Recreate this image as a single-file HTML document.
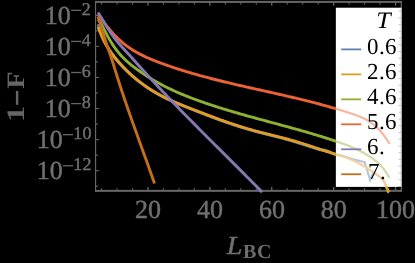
<!DOCTYPE html>
<html><head><meta charset="utf-8"><title>plot</title>
<style>
html,body{margin:0;padding:0;background:#000;}
body{width:415px;height:263px;overflow:hidden;}
svg{display:block;}
text{font-family:"Liberation Serif",serif;text-rendering:geometricPrecision;}
.t{fill:#707070;stroke:#707070;stroke-width:0.45px;font-size:26px;}
.s{fill:#707070;stroke:#707070;stroke-width:0.4px;font-size:18px;}
.l{fill:#000;font-size:23px;}
</style></head><body>
<svg width="415" height="263" viewBox="0 0 415 263">
<defs><filter id="gs" x="0" y="0" width="415" height="263" filterUnits="userSpaceOnUse"><feOffset dx="0" dy="0"/></filter></defs>
<rect x="0" y="0" width="415" height="263" fill="#000"/>
<rect x="335.9" y="7.8" width="65.95000000000005" height="179.0" fill="#fff"/>
<g fill="#666666" stroke="none">
<rect x="94.95" y="0.9" width="306.95" height="2.0"/>
<rect x="94.95" y="189.85" width="306.95" height="2.0"/>
<rect x="94.95" y="0.9" width="1.2" height="190.95"/>
<rect x="400.7" y="0.9" width="1.2" height="190.95"/>
</g>
<g stroke="#666666" stroke-width="1.1" fill="none">
<path stroke-width="1.1" d="M101.60,190.8 v-2.6 M101.60,1.9 v2.6"/>
<path stroke-width="1.1" d="M117.07,190.8 v-2.6 M117.07,1.9 v2.6"/>
<path stroke-width="1.1" d="M132.54,190.8 v-2.6 M132.54,1.9 v2.6"/>
<path stroke-width="1.3" d="M148.00,190.8 v-3.9 M148.00,1.9 v3.9"/>
<path stroke-width="1.1" d="M163.47,190.8 v-2.6 M163.47,1.9 v2.6"/>
<path stroke-width="1.1" d="M178.94,190.8 v-2.6 M178.94,1.9 v2.6"/>
<path stroke-width="1.1" d="M194.41,190.8 v-2.6 M194.41,1.9 v2.6"/>
<path stroke-width="1.3" d="M209.88,190.8 v-3.9 M209.88,1.9 v3.9"/>
<path stroke-width="1.1" d="M225.35,190.8 v-2.6 M225.35,1.9 v2.6"/>
<path stroke-width="1.1" d="M240.81,190.8 v-2.6 M240.81,1.9 v2.6"/>
<path stroke-width="1.1" d="M256.28,190.8 v-2.6 M256.28,1.9 v2.6"/>
<path stroke-width="1.3" d="M271.75,190.8 v-3.9 M271.75,1.9 v3.9"/>
<path stroke-width="1.1" d="M287.22,190.8 v-2.6 M287.22,1.9 v2.6"/>
<path stroke-width="1.1" d="M302.69,190.8 v-2.6 M302.69,1.9 v2.6"/>
<path stroke-width="1.1" d="M318.16,190.8 v-2.6 M318.16,1.9 v2.6"/>
<path stroke-width="1.3" d="M333.63,190.8 v-3.9 M333.63,1.9 v3.9"/>
<path stroke-width="1.1" d="M349.09,190.8 v-2.6 M349.09,1.9 v2.6"/>
<path stroke-width="1.1" d="M364.56,190.8 v-2.6 M364.56,1.9 v2.6"/>
<path stroke-width="1.1" d="M380.03,190.8 v-2.6 M380.03,1.9 v2.6"/>
<path stroke-width="1.3" d="M395.50,190.8 v-3.9 M395.50,1.9 v3.9"/>
<path stroke-width="1.1" d="M95.5,15.30 h3.6"/>
<path stroke-width="1.1" d="M95.5,30.84 h2.5"/>
<path stroke-width="1.1" d="M95.5,46.38 h3.6"/>
<path stroke-width="1.1" d="M95.5,61.92 h2.5"/>
<path stroke-width="1.1" d="M95.5,77.46 h3.6"/>
<path stroke-width="1.1" d="M95.5,93.00 h2.5"/>
<path stroke-width="1.1" d="M95.5,108.54 h3.6"/>
<path stroke-width="1.1" d="M95.5,124.08 h2.5"/>
<path stroke-width="1.1" d="M95.5,139.62 h3.6"/>
<path stroke-width="1.1" d="M95.5,155.16 h2.5"/>
<path stroke-width="1.1" d="M95.5,170.70 h3.6"/>
<path stroke-width="1.1" d="M95.5,186.24 h2.5"/>
<path stroke-width="0.8" d="M401.3,11.00 h-2.8"/>
<path stroke-width="0.8" d="M401.3,17.75 h-2.8"/>
<path stroke-width="0.8" d="M401.3,24.50 h-2.8"/>
<path stroke-width="0.8" d="M401.3,31.25 h-2.8"/>
<path stroke-width="0.8" d="M401.3,38.00 h-2.8"/>
<path stroke-width="0.8" d="M401.3,44.75 h-2.8"/>
<path stroke-width="0.8" d="M401.3,51.50 h-2.8"/>
<path stroke-width="0.8" d="M401.3,58.25 h-2.8"/>
<path stroke-width="0.8" d="M401.3,65.00 h-2.8"/>
<path stroke-width="0.8" d="M401.3,71.75 h-2.8"/>
<path stroke-width="0.8" d="M401.3,78.50 h-2.8"/>
<path stroke-width="0.8" d="M401.3,85.25 h-2.8"/>
<path stroke-width="0.8" d="M401.3,92.00 h-2.8"/>
<path stroke-width="0.8" d="M401.3,98.75 h-2.8"/>
<path stroke-width="0.8" d="M401.3,105.50 h-2.8"/>
<path stroke-width="0.8" d="M401.3,112.25 h-2.8"/>
<path stroke-width="0.8" d="M401.3,119.00 h-2.8"/>
<path stroke-width="0.8" d="M401.3,125.75 h-2.8"/>
<path stroke-width="0.8" d="M401.3,132.50 h-2.8"/>
<path stroke-width="0.8" d="M401.3,139.25 h-2.8"/>
<path stroke-width="0.8" d="M401.3,146.00 h-2.8"/>
<path stroke-width="0.8" d="M401.3,152.75 h-2.8"/>
<path stroke-width="0.8" d="M401.3,159.50 h-2.8"/>
<path stroke-width="0.8" d="M401.3,166.25 h-2.8"/>
<path stroke-width="0.8" d="M401.3,173.00 h-2.8"/>
<path stroke-width="0.8" d="M401.3,179.75 h-2.8"/>
<path stroke-width="0.8" d="M401.3,186.50 h-2.8"/>
</g>
<defs><clipPath id="cin"><rect x="335.9" y="7.8" width="65.95000000000005" height="179.0"/></clipPath><clipPath id="cout"><path clip-rule="evenodd" d="M0,0H415V263H0Z M335.9,7.8H401.85V186.8H335.9Z"/></clipPath></defs>
<g clip-path="url(#cout)"><g fill="none" stroke-width="2.9" stroke-linejoin="miter" stroke-miterlimit="8" stroke-linecap="butt">
<path d="M98.0,24.33 L99.0,27.35 L100.0,30.31 L101.0,33.24 L102.0,35.77 L103.0,38.08 L104.0,40.20 L105.0,42.16 L106.0,44.01 L107.0,45.77 L108.0,47.44 L109.0,49.03 L110.0,50.54 L111.0,51.99 L112.0,53.42 L113.0,54.78 L114.0,56.11 L115.0,57.39 L116.0,58.63 L117.0,59.84 L118.0,61.02 L119.0,62.17 L120.0,63.31 L121.0,64.41 L122.0,65.51 L123.0,66.58 L124.0,67.64 L125.0,68.68 L126.0,69.70 L127.0,70.70 L128.0,71.68 L129.0,72.65 L130.0,73.60 L131.0,74.54 L132.0,75.44 L133.0,76.32 L134.0,77.19 L135.0,78.05 L136.0,78.89 L137.0,79.72 L138.0,80.53 L139.0,81.32 L140.0,82.10 L141.0,82.88 L142.0,83.65 L143.0,84.40 L144.0,85.13 L145.0,85.86 L146.0,86.57 L147.0,87.27 L148.0,87.95 L149.0,88.63 L150.0,89.29 L151.0,89.92 L152.0,90.55 L153.0,91.16 L154.0,91.76 L155.0,92.34 L156.0,92.92 L157.0,93.49 L158.0,94.05 L159.0,94.60 L160.0,95.14 L161.0,95.68 L162.0,96.20 L163.0,96.72 L164.0,97.22 L165.0,97.72 L166.0,98.22 L167.0,98.70 L168.0,99.18 L169.0,99.65 L170.0,100.12 L171.0,100.58 L172.0,101.03 L173.0,101.47 L174.0,101.92 L175.0,102.35 L176.0,102.78 L177.0,103.21 L178.0,103.63 L179.0,104.05 L180.0,104.46 L181.0,104.87 L182.0,105.28 L183.0,105.68 L184.0,106.09 L185.0,106.48 L186.0,106.88 L187.0,107.27 L188.0,107.66 L189.0,108.05 L190.0,108.44 L191.0,108.83 L192.0,109.22 L193.0,109.60 L194.0,110.01 L195.0,110.41 L196.0,110.81 L197.0,111.21 L198.0,111.61 L199.0,112.02 L200.0,112.42 L201.0,112.82 L202.0,113.22 L203.0,113.61 L204.0,114.01 L205.0,114.41 L206.0,114.81 L207.0,115.20 L208.0,115.60 L209.0,115.99 L210.0,116.38 L211.0,116.75 L212.0,117.13 L213.0,117.50 L214.0,117.87 L215.0,118.23 L216.0,118.60 L217.0,118.97 L218.0,119.33 L219.0,119.69 L220.0,120.05 L221.0,120.41 L222.0,120.77 L223.0,121.12 L224.0,121.48 L225.0,121.83 L226.0,122.18 L227.0,122.53 L228.0,122.87 L229.0,123.21 L230.0,123.56 L231.0,123.90 L232.0,124.23 L233.0,124.57 L234.0,124.90 L235.0,125.23 L236.0,125.55 L237.0,125.88 L238.0,126.20 L239.0,126.52 L240.0,126.84 L241.0,127.15 L242.0,127.46 L243.0,127.77 L244.0,128.08 L245.0,128.38 L246.0,128.68 L247.0,128.97 L248.0,129.27 L249.0,129.56 L250.0,129.84 L251.0,130.13 L252.0,130.41 L253.0,130.68 L254.0,130.96 L255.0,131.23 L256.0,131.49 L257.0,131.76 L258.0,132.02 L259.0,132.29 L260.0,132.55 L261.0,132.81 L262.0,133.07 L263.0,133.33 L264.0,133.59 L265.0,133.84 L266.0,134.10 L267.0,134.35 L268.0,134.61 L269.0,134.86 L270.0,135.11 L271.0,135.36 L272.0,135.62 L273.0,135.87 L274.0,136.12 L275.0,136.38 L276.0,136.63 L277.0,136.89 L278.0,137.14 L279.0,137.40 L280.0,137.66 L281.0,137.92 L282.0,138.18 L283.0,138.45 L284.0,138.72 L285.0,138.99 L286.0,139.26 L287.0,139.54 L288.0,139.81 L289.0,140.10 L290.0,140.38 L291.0,140.67 L292.0,140.96 L293.0,141.25 L294.0,141.54 L295.0,141.84 L296.0,142.14 L297.0,142.44 L298.0,142.74 L299.0,143.05 L300.0,143.36 L301.0,143.68 L302.0,143.99 L303.0,144.31 L304.0,144.63 L305.0,144.95 L306.0,145.28 L307.0,145.60 L308.0,145.93 L309.0,146.25 L310.0,146.58 L311.0,146.91 L312.0,147.24 L313.0,147.57 L314.0,147.90 L315.0,148.23 L316.0,148.57 L317.0,148.90 L318.0,149.23 L319.0,149.56 L320.0,149.69 L321.0,149.82 L322.0,149.95 L323.0,150.04 L324.0,150.13 L325.0,150.22 L326.0,150.55 L327.0,150.87 L328.0,151.19 L329.0,151.51 L330.0,152.02 L331.0,152.54 L332.0,153.05 L333.0,153.56 L334.0,153.89 L335.0,154.23 L336.0,154.56 L337.0,154.73 L338.0,154.89 L339.0,155.05 L340.0,155.32 L341.0,155.58 L342.0,155.86 L343.0,156.14 L344.0,156.43 L345.0,156.73 L346.0,157.04 L347.0,157.34 L348.0,157.66 L349.0,157.98 L350.0,158.32 L351.0,158.68 L352.0,158.96 L353.0,159.23 L354.0,159.52 L355.0,159.82 L356.0,160.13 L357.0,160.35 L358.0,160.56 L359.0,160.78 L360.0,161.01 L361.0,161.25 L362.0,161.51 L363.0,161.79 L364.0,162.08 L364.6,162.26 L370.2,180.00 L373.4,172.29 L374.4,172.99 L375.4,173.70 L376.4,174.42 L377.4,175.15 L378.4,175.88 L379.4,176.63 L380.4,177.40 L381.4,178.25 L382.4,179.28 L383.4,180.54 L384.4,182.12 L385.4,184.09 L386.4,186.52 L387.4,189.31 L388.4,191.59 L389.1,192.32" stroke="#5E81B5"/>
<path d="M98.0,26.93 L99.0,29.58 L100.0,32.10 L101.0,34.50 L102.0,36.78 L103.0,38.94 L104.0,41.00 L105.0,42.96 L106.0,44.81 L107.0,46.57 L108.0,48.24 L109.0,49.83 L110.0,51.34 L111.0,52.78 L112.0,54.16 L113.0,55.49 L114.0,56.77 L115.0,58.01 L116.0,59.22 L117.0,60.41 L118.0,61.56 L119.0,62.69 L120.0,63.80 L121.0,64.88 L122.0,65.95 L123.0,66.99 L124.0,68.02 L125.0,69.03 L126.0,70.02 L127.0,71.00 L128.0,71.96 L129.0,72.90 L130.0,73.82 L131.0,74.73 L132.0,75.62 L133.0,76.50 L134.0,77.36 L135.0,78.20 L136.0,79.03 L137.0,79.85 L138.0,80.65 L139.0,81.43 L140.0,82.20 L141.0,82.96 L142.0,83.71 L143.0,84.44 L144.0,85.15 L145.0,85.86 L146.0,86.55 L147.0,87.23 L148.0,87.89 L149.0,88.55 L150.0,89.19 L151.0,89.82 L152.0,90.45 L153.0,91.06 L154.0,91.66 L155.0,92.24 L156.0,92.82 L157.0,93.39 L158.0,93.95 L159.0,94.50 L160.0,95.04 L161.0,95.58 L162.0,96.10 L163.0,96.62 L164.0,97.12 L165.0,97.62 L166.0,98.12 L167.0,98.60 L168.0,99.08 L169.0,99.55 L170.0,100.02 L171.0,100.48 L172.0,100.93 L173.0,101.37 L174.0,101.82 L175.0,102.25 L176.0,102.68 L177.0,103.11 L178.0,103.53 L179.0,103.95 L180.0,104.36 L181.0,104.77 L182.0,105.18 L183.0,105.58 L184.0,105.99 L185.0,106.38 L186.0,106.78 L187.0,107.17 L188.0,107.56 L189.0,107.95 L190.0,108.34 L191.0,108.73 L192.0,109.12 L193.0,109.50 L194.0,109.89 L195.0,110.27 L196.0,110.66 L197.0,111.04 L198.0,111.43 L199.0,111.81 L200.0,112.19 L201.0,112.58 L202.0,112.96 L203.0,113.34 L204.0,113.72 L205.0,114.10 L206.0,114.48 L207.0,114.85 L208.0,115.23 L209.0,115.61 L210.0,115.98 L211.0,116.35 L212.0,116.73 L213.0,117.10 L214.0,117.47 L215.0,117.83 L216.0,118.20 L217.0,118.57 L218.0,118.93 L219.0,119.29 L220.0,119.65 L221.0,120.01 L222.0,120.37 L223.0,120.72 L224.0,121.08 L225.0,121.43 L226.0,121.78 L227.0,122.13 L228.0,122.47 L229.0,122.81 L230.0,123.16 L231.0,123.50 L232.0,123.83 L233.0,124.17 L234.0,124.50 L235.0,124.83 L236.0,125.15 L237.0,125.48 L238.0,125.80 L239.0,126.12 L240.0,126.44 L241.0,126.75 L242.0,127.06 L243.0,127.37 L244.0,127.68 L245.0,127.98 L246.0,128.28 L247.0,128.57 L248.0,128.87 L249.0,129.16 L250.0,129.44 L251.0,129.73 L252.0,130.01 L253.0,130.28 L254.0,130.56 L255.0,130.83 L256.0,131.09 L257.0,131.36 L258.0,131.62 L259.0,131.88 L260.0,132.14 L261.0,132.39 L262.0,132.65 L263.0,132.90 L264.0,133.15 L265.0,133.40 L266.0,133.65 L267.0,133.90 L268.0,134.15 L269.0,134.39 L270.0,134.64 L271.0,134.89 L272.0,135.13 L273.0,135.38 L274.0,135.63 L275.0,135.87 L276.0,136.12 L277.0,136.37 L278.0,136.62 L279.0,136.88 L280.0,137.13 L281.0,137.38 L282.0,137.64 L283.0,137.90 L284.0,138.16 L285.0,138.43 L286.0,138.69 L287.0,138.96 L288.0,139.23 L289.0,139.51 L290.0,139.79 L291.0,140.07 L292.0,140.36 L293.0,140.65 L294.0,140.94 L295.0,141.24 L296.0,141.54 L297.0,141.84 L298.0,142.14 L299.0,142.45 L300.0,142.76 L301.0,143.08 L302.0,143.39 L303.0,143.71 L304.0,144.03 L305.0,144.35 L306.0,144.68 L307.0,145.00 L308.0,145.33 L309.0,145.65 L310.0,145.98 L311.0,146.31 L312.0,146.64 L313.0,146.97 L314.0,147.30 L315.0,147.63 L316.0,147.97 L317.0,148.30 L318.0,148.63 L319.0,148.96 L320.0,149.29 L321.0,149.62 L322.0,149.95 L323.0,150.27 L324.0,150.60 L325.0,150.92 L326.0,151.25 L327.0,151.57 L328.0,151.89 L329.0,152.21 L330.0,152.52 L331.0,152.84 L332.0,153.15 L333.0,153.46 L334.0,153.76 L335.0,154.06 L336.0,154.36 L337.0,154.66 L338.0,154.96 L339.0,155.25 L340.0,155.55 L341.0,155.85 L342.0,156.16 L343.0,156.48 L344.0,156.80 L345.0,157.14 L346.0,157.49 L347.0,157.86 L348.0,158.24 L349.0,158.63 L350.0,159.04 L351.0,159.47 L352.0,159.90 L353.0,160.36 L354.0,160.82 L355.0,161.30 L356.0,161.80 L357.0,162.30 L358.0,162.82 L359.0,163.35 L360.0,163.90 L361.0,164.46 L362.0,165.03 L363.0,165.61 L364.0,166.20 L365.0,166.80 L366.0,167.42 L367.0,168.04 L368.0,168.68 L369.0,169.33 L370.0,169.98 L371.0,170.65 L372.0,171.33 L373.0,172.02 L374.0,172.71 L375.0,173.42 L376.0,174.13 L377.0,174.86 L378.0,175.59 L379.0,176.33 L380.0,177.08 L381.0,177.90 L382.0,178.84 L383.0,180.00 L384.0,181.45 L385.0,183.25 L386.0,185.49 L387.0,188.20 L388.0,190.81 L389.0,192.27 L389.1,192.32" stroke="#E19C24"/>
<path d="M98.0,19.33 L99.0,20.49 L100.0,21.89 L101.0,23.50 L102.0,25.27 L103.0,27.15 L104.0,29.10 L105.0,31.09 L106.0,33.07 L107.0,35.00 L108.0,36.85 L109.0,38.64 L110.0,40.36 L111.0,42.01 L112.0,43.60 L113.0,45.13 L114.0,46.60 L115.0,48.01 L116.0,49.37 L117.0,50.68 L118.0,51.93 L119.0,53.15 L120.0,54.31 L121.0,55.44 L122.0,56.52 L123.0,57.56 L124.0,58.57 L125.0,59.55 L126.0,60.49 L127.0,61.40 L128.0,62.29 L129.0,63.15 L130.0,63.98 L131.0,64.80 L132.0,65.59 L133.0,66.37 L134.0,67.14 L135.0,67.89 L136.0,68.63 L137.0,69.36 L138.0,70.08 L139.0,70.80 L140.0,71.50 L141.0,72.20 L142.0,72.88 L143.0,73.56 L144.0,74.23 L145.0,74.89 L146.0,75.54 L147.0,76.18 L148.0,76.82 L149.0,77.45 L150.0,78.07 L151.0,78.68 L152.0,79.28 L153.0,79.88 L154.0,80.47 L155.0,81.05 L156.0,81.62 L157.0,82.19 L158.0,82.74 L159.0,83.30 L160.0,83.84 L161.0,84.38 L162.0,84.91 L163.0,85.43 L164.0,85.95 L165.0,86.46 L166.0,86.97 L167.0,87.47 L168.0,87.96 L169.0,88.45 L170.0,88.93 L171.0,89.41 L172.0,89.88 L173.0,90.34 L174.0,90.80 L175.0,91.25 L176.0,91.70 L177.0,92.15 L178.0,92.58 L179.0,93.02 L180.0,93.45 L181.0,93.87 L182.0,94.29 L183.0,94.71 L184.0,95.12 L185.0,95.52 L186.0,95.92 L187.0,96.32 L188.0,96.72 L189.0,97.11 L190.0,97.49 L191.0,97.88 L192.0,98.26 L193.0,98.63 L194.0,99.01 L195.0,99.38 L196.0,99.74 L197.0,100.11 L198.0,100.47 L199.0,100.83 L200.0,101.18 L201.0,101.54 L202.0,101.89 L203.0,102.23 L204.0,102.58 L205.0,102.92 L206.0,103.27 L207.0,103.61 L208.0,103.94 L209.0,104.28 L210.0,104.61 L211.0,104.94 L212.0,105.27 L213.0,105.60 L214.0,105.92 L215.0,106.25 L216.0,106.57 L217.0,106.89 L218.0,107.21 L219.0,107.52 L220.0,107.84 L221.0,108.15 L222.0,108.46 L223.0,108.77 L224.0,109.08 L225.0,109.38 L226.0,109.69 L227.0,109.99 L228.0,110.29 L229.0,110.59 L230.0,110.89 L231.0,111.19 L232.0,111.49 L233.0,111.78 L234.0,112.07 L235.0,112.37 L236.0,112.66 L237.0,112.95 L238.0,113.24 L239.0,113.52 L240.0,113.81 L241.0,114.10 L242.0,114.38 L243.0,114.66 L244.0,114.95 L245.0,115.23 L246.0,115.51 L247.0,115.79 L248.0,116.07 L249.0,116.34 L250.0,116.62 L251.0,116.90 L252.0,117.17 L253.0,117.45 L254.0,117.72 L255.0,118.00 L256.0,118.27 L257.0,118.55 L258.0,118.82 L259.0,119.09 L260.0,119.36 L261.0,119.63 L262.0,119.90 L263.0,120.17 L264.0,120.44 L265.0,120.71 L266.0,120.98 L267.0,121.25 L268.0,121.52 L269.0,121.79 L270.0,122.06 L271.0,122.33 L272.0,122.60 L273.0,122.87 L274.0,123.14 L275.0,123.41 L276.0,123.68 L277.0,123.95 L278.0,124.22 L279.0,124.49 L280.0,124.76 L281.0,125.03 L282.0,125.30 L283.0,125.57 L284.0,125.84 L285.0,126.11 L286.0,126.38 L287.0,126.66 L288.0,126.93 L289.0,127.20 L290.0,127.48 L291.0,127.75 L292.0,128.03 L293.0,128.30 L294.0,128.58 L295.0,128.86 L296.0,129.14 L297.0,129.42 L298.0,129.70 L299.0,129.98 L300.0,130.26 L301.0,130.54 L302.0,130.82 L303.0,131.11 L304.0,131.39 L305.0,131.68 L306.0,131.97 L307.0,132.26 L308.0,132.55 L309.0,132.84 L310.0,133.13 L311.0,133.42 L312.0,133.72 L313.0,134.02 L314.0,134.31 L315.0,134.61 L316.0,134.91 L317.0,135.21 L318.0,135.52 L319.0,135.82 L320.0,136.13 L321.0,136.44 L322.0,136.75 L323.0,137.06 L324.0,137.37 L325.0,137.69 L326.0,138.00 L327.0,138.32 L328.0,138.64 L329.0,138.96 L330.0,139.29 L331.0,139.61 L332.0,139.94 L333.0,140.27 L334.0,140.60 L335.0,140.93 L336.0,141.27 L337.0,141.61 L338.0,141.95 L339.0,142.29 L340.0,142.64 L341.0,142.99 L342.0,143.34 L343.0,143.70 L344.0,144.07 L345.0,144.44 L346.0,144.81 L347.0,145.20 L348.0,145.59 L349.0,145.98 L350.0,146.39 L351.0,146.80 L352.0,147.22 L353.0,147.65 L354.0,148.09 L355.0,148.54 L356.0,149.00 L357.0,149.47 L358.0,149.95 L359.0,150.44 L360.0,150.95 L361.0,151.46 L362.0,151.99 L363.0,152.54 L364.0,153.09 L365.0,153.66 L366.0,154.25 L367.0,154.85 L368.0,155.47 L369.0,156.10 L370.0,156.75 L371.0,157.41 L372.0,158.10 L373.0,158.80 L374.0,159.54 L375.0,160.31 L376.0,161.11 L377.0,161.96 L378.0,162.86 L379.0,163.80 L380.0,164.80 L381.0,165.86 L382.0,166.98 L383.0,168.18 L384.0,169.44 L385.0,170.79 L386.0,172.21 L387.0,173.72 L388.0,175.33 L389.0,177.03 L389.4,177.74" stroke="#8FB032"/>
<path d="M98.0,14.39 L99.0,15.78 L100.0,17.15 L101.0,18.51 L102.0,19.86 L103.0,21.19 L104.0,22.51 L105.0,23.80 L106.0,25.08 L107.0,26.34 L108.0,27.58 L109.0,28.79 L110.0,29.98 L111.0,31.14 L112.0,32.28 L113.0,33.39 L114.0,34.48 L115.0,35.54 L116.0,36.57 L117.0,37.57 L118.0,38.55 L119.0,39.50 L120.0,40.42 L121.0,41.32 L122.0,42.19 L123.0,43.03 L124.0,43.84 L125.0,44.63 L126.0,45.40 L127.0,46.14 L128.0,46.86 L129.0,47.56 L130.0,48.24 L131.0,48.91 L132.0,49.55 L133.0,50.17 L134.0,50.78 L135.0,51.38 L136.0,51.95 L137.0,52.52 L138.0,53.07 L139.0,53.61 L140.0,54.13 L141.0,54.65 L142.0,55.15 L143.0,55.64 L144.0,56.13 L145.0,56.60 L146.0,57.06 L147.0,57.51 L148.0,57.96 L149.0,58.39 L150.0,58.82 L151.0,59.24 L152.0,59.66 L153.0,60.06 L154.0,60.47 L155.0,60.86 L156.0,61.25 L157.0,61.64 L158.0,62.02 L159.0,62.39 L160.0,62.77 L161.0,63.14 L162.0,63.51 L163.0,63.87 L164.0,64.23 L165.0,64.59 L166.0,64.95 L167.0,65.30 L168.0,65.65 L169.0,66.00 L170.0,66.34 L171.0,66.68 L172.0,67.02 L173.0,67.36 L174.0,67.69 L175.0,68.02 L176.0,68.35 L177.0,68.68 L178.0,69.00 L179.0,69.32 L180.0,69.64 L181.0,69.96 L182.0,70.27 L183.0,70.59 L184.0,70.89 L185.0,71.20 L186.0,71.51 L187.0,71.81 L188.0,72.11 L189.0,72.41 L190.0,72.71 L191.0,73.00 L192.0,73.29 L193.0,73.58 L194.0,73.87 L195.0,74.16 L196.0,74.44 L197.0,74.72 L198.0,75.00 L199.0,75.28 L200.0,75.56 L201.0,75.83 L202.0,76.11 L203.0,76.38 L204.0,76.65 L205.0,76.92 L206.0,77.18 L207.0,77.45 L208.0,77.71 L209.0,77.97 L210.0,78.23 L211.0,78.49 L212.0,78.75 L213.0,79.01 L214.0,79.26 L215.0,79.51 L216.0,79.77 L217.0,80.02 L218.0,80.27 L219.0,80.52 L220.0,80.76 L221.0,81.01 L222.0,81.25 L223.0,81.50 L224.0,81.74 L225.0,81.98 L226.0,82.22 L227.0,82.46 L228.0,82.70 L229.0,82.94 L230.0,83.17 L231.0,83.41 L232.0,83.64 L233.0,83.88 L234.0,84.11 L235.0,84.34 L236.0,84.58 L237.0,84.81 L238.0,85.04 L239.0,85.27 L240.0,85.50 L241.0,85.73 L242.0,85.96 L243.0,86.18 L244.0,86.41 L245.0,86.64 L246.0,86.86 L247.0,87.09 L248.0,87.32 L249.0,87.54 L250.0,87.77 L251.0,87.99 L252.0,88.21 L253.0,88.44 L254.0,88.66 L255.0,88.89 L256.0,89.11 L257.0,89.33 L258.0,89.55 L259.0,89.78 L260.0,90.00 L261.0,90.22 L262.0,90.45 L263.0,90.67 L264.0,90.89 L265.0,91.11 L266.0,91.34 L267.0,91.56 L268.0,91.78 L269.0,92.01 L270.0,92.23 L271.0,92.46 L272.0,92.68 L273.0,92.90 L274.0,93.13 L275.0,93.35 L276.0,93.58 L277.0,93.80 L278.0,94.03 L279.0,94.26 L280.0,94.48 L281.0,94.71 L282.0,94.94 L283.0,95.17 L284.0,95.40 L285.0,95.63 L286.0,95.86 L287.0,96.09 L288.0,96.32 L289.0,96.55 L290.0,96.79 L291.0,97.02 L292.0,97.26 L293.0,97.49 L294.0,97.73 L295.0,97.96 L296.0,98.20 L297.0,98.44 L298.0,98.68 L299.0,98.92 L300.0,99.16 L301.0,99.41 L302.0,99.65 L303.0,99.90 L304.0,100.14 L305.0,100.39 L306.0,100.64 L307.0,100.89 L308.0,101.14 L309.0,101.39 L310.0,101.64 L311.0,101.90 L312.0,102.16 L313.0,102.41 L314.0,102.67 L315.0,102.93 L316.0,103.19 L317.0,103.46 L318.0,103.72 L319.0,103.99 L320.0,104.25 L321.0,104.52 L322.0,104.79 L323.0,105.07 L324.0,105.34 L325.0,105.62 L326.0,105.89 L327.0,106.17 L328.0,106.45 L329.0,106.74 L330.0,107.02 L331.0,107.31 L332.0,107.60 L333.0,107.89 L334.0,108.18 L335.0,108.47 L336.0,108.77 L337.0,109.06 L338.0,109.36 L339.0,109.67 L340.0,109.97 L341.0,110.28 L342.0,110.58 L343.0,110.90 L344.0,111.21 L345.0,111.52 L346.0,111.84 L347.0,112.16 L348.0,112.48 L349.0,112.80 L350.0,113.13 L351.0,113.46 L352.0,113.79 L353.0,114.12 L354.0,114.46 L355.0,114.81 L356.0,115.17 L357.0,115.53 L358.0,115.91 L359.0,116.30 L360.0,116.71 L361.0,117.13 L362.0,117.58 L363.0,118.04 L364.0,118.52 L365.0,119.03 L366.0,119.57 L367.0,120.13 L368.0,120.72 L369.0,121.35 L370.0,122.00 L371.0,122.69 L372.0,123.41 L373.0,124.17 L374.0,124.97 L375.0,125.82 L376.0,126.70 L377.0,127.63 L378.0,128.60 L379.0,129.62 L380.0,130.69 L381.0,131.81 L382.0,132.99 L383.0,134.22 L384.0,135.50 L385.0,136.84 L386.0,138.25 L387.0,139.71 L388.0,141.23 L389.0,142.82 L389.6,143.81" stroke="#EB6235"/>
<path d="M98.1,12.46 L99.1,14.06 L100.1,15.68 L101.1,17.32 L102.1,18.98 L103.1,20.63 L104.1,22.29 L105.1,23.94 L106.1,25.57 L107.1,27.18 L108.1,28.77 L109.1,30.32 L110.1,31.84 L111.1,33.32 L112.1,34.76 L113.1,36.16 L114.1,37.52 L115.1,38.84 L116.1,40.12 L117.1,41.36 L118.1,42.57 L119.1,43.75 L120.1,44.91 L121.1,46.04 L122.1,47.15 L123.1,48.25 L124.1,49.34 L125.1,50.41 L126.1,51.49 L127.1,52.56 L128.1,53.64 L129.1,54.72 L130.1,55.81 L131.1,56.92 L132.1,58.04 L133.1,59.17 L134.1,60.30 L135.1,61.43 L136.1,62.56 L137.1,63.68 L138.1,64.81 L139.1,65.92 L140.1,67.04 L141.1,68.15 L142.1,69.26 L143.1,70.37 L144.1,71.47 L145.1,72.57 L146.1,73.67 L147.1,74.77 L148.1,75.86 L149.1,76.95 L150.1,78.04 L151.1,79.12 L152.1,80.21 L153.1,81.29 L154.1,82.36 L155.1,83.44 L156.1,84.51 L157.1,85.58 L158.1,86.65 L159.1,87.72 L160.1,88.78 L161.1,89.84 L162.1,90.90 L163.1,91.96 L164.1,93.01 L165.1,94.06 L166.1,95.12 L167.1,96.16 L168.1,97.21 L169.1,98.26 L170.1,99.30 L171.1,100.34 L172.1,101.38 L173.1,102.42 L174.1,103.46 L175.1,104.49 L176.1,105.52 L177.1,106.55 L178.1,107.58 L179.1,108.61 L180.1,109.64 L181.1,110.66 L182.1,111.69 L183.1,112.71 L184.1,113.73 L185.1,114.75 L186.1,115.77 L187.1,116.79 L188.1,117.80 L189.1,118.82 L190.1,119.83 L191.1,120.84 L192.1,121.85 L193.1,122.86 L194.1,123.87 L195.1,124.88 L196.1,125.89 L197.1,126.90 L198.1,127.90 L199.1,128.91 L200.1,129.91 L201.1,130.91 L202.1,131.92 L203.1,132.92 L204.1,133.92 L205.1,134.92 L206.1,135.92 L207.1,136.92 L208.1,137.92 L209.1,138.92 L210.1,139.92 L211.1,140.92 L212.1,141.92 L213.1,142.91 L214.1,143.91 L215.1,144.91 L216.1,145.90 L217.1,146.90 L218.1,147.90 L219.1,148.89 L220.1,149.89 L221.1,150.89 L222.1,151.88 L223.1,152.88 L224.1,153.88 L225.1,154.87 L226.1,155.87 L227.1,156.87 L228.1,157.87 L229.1,158.86 L230.1,159.86 L231.1,160.86 L232.1,161.86 L233.1,162.86 L234.1,163.86 L235.1,164.86 L236.1,165.86 L237.1,166.86 L238.1,167.86 L239.1,168.87 L240.1,169.87 L241.1,170.87 L242.1,171.88 L243.1,172.88 L244.1,173.89 L245.1,174.90 L246.1,175.91 L247.1,176.92 L248.1,177.93 L249.1,178.94 L250.1,179.95 L251.1,180.96 L252.1,181.98 L253.1,183.00 L254.1,184.01 L255.1,185.03 L256.1,186.05 L257.1,187.07 L258.1,188.09 L259.1,189.12 L260.1,190.14 L261.1,191.17 L262.1,192.20 L262.1,192.20" stroke="#8778B3"/>
<path d="M98.0,16.54 L99.0,19.78 L100.0,23.07 L101.0,26.38 L102.0,29.68 L103.0,32.95 L104.0,36.15 L105.0,39.27 L106.0,42.30 L107.0,45.26 L108.0,48.17 L109.0,51.06 L110.0,53.99 L111.0,56.98 L112.0,60.05 L113.0,63.18 L114.0,66.36 L115.0,69.57 L116.0,72.78 L117.0,75.98 L118.0,79.15 L119.0,82.28 L120.0,85.38 L121.0,88.45 L122.0,91.50 L123.0,94.51 L124.0,97.50 L125.0,100.46 L126.0,103.40 L127.0,106.32 L128.0,109.22 L129.0,112.10 L130.0,114.96 L131.0,117.80 L132.0,120.63 L133.0,123.45 L134.0,126.25 L135.0,129.04 L136.0,131.83 L137.0,134.61 L138.0,137.38 L139.0,140.14 L140.0,142.91 L141.0,145.67 L142.0,148.43 L143.0,151.19 L144.0,153.95 L145.0,156.72 L146.0,159.49 L147.0,162.27 L148.0,165.06 L149.0,167.86 L150.0,170.67 L151.0,173.49 L152.0,176.32 L153.0,179.17 L154.0,182.04 L154.5,183.48" stroke="#C56E1A"/>
</g></g>
<g clip-path="url(#cin)"><g fill="none" stroke-width="2.2" stroke-linejoin="miter" stroke-miterlimit="8" stroke-linecap="butt">
<path d="M98.0,24.33 L99.0,27.35 L100.0,30.31 L101.0,33.24 L102.0,35.77 L103.0,38.08 L104.0,40.20 L105.0,42.16 L106.0,44.01 L107.0,45.77 L108.0,47.44 L109.0,49.03 L110.0,50.54 L111.0,51.99 L112.0,53.42 L113.0,54.78 L114.0,56.11 L115.0,57.39 L116.0,58.63 L117.0,59.84 L118.0,61.02 L119.0,62.17 L120.0,63.31 L121.0,64.41 L122.0,65.51 L123.0,66.58 L124.0,67.64 L125.0,68.68 L126.0,69.70 L127.0,70.70 L128.0,71.68 L129.0,72.65 L130.0,73.60 L131.0,74.54 L132.0,75.44 L133.0,76.32 L134.0,77.19 L135.0,78.05 L136.0,78.89 L137.0,79.72 L138.0,80.53 L139.0,81.32 L140.0,82.10 L141.0,82.88 L142.0,83.65 L143.0,84.40 L144.0,85.13 L145.0,85.86 L146.0,86.57 L147.0,87.27 L148.0,87.95 L149.0,88.63 L150.0,89.29 L151.0,89.92 L152.0,90.55 L153.0,91.16 L154.0,91.76 L155.0,92.34 L156.0,92.92 L157.0,93.49 L158.0,94.05 L159.0,94.60 L160.0,95.14 L161.0,95.68 L162.0,96.20 L163.0,96.72 L164.0,97.22 L165.0,97.72 L166.0,98.22 L167.0,98.70 L168.0,99.18 L169.0,99.65 L170.0,100.12 L171.0,100.58 L172.0,101.03 L173.0,101.47 L174.0,101.92 L175.0,102.35 L176.0,102.78 L177.0,103.21 L178.0,103.63 L179.0,104.05 L180.0,104.46 L181.0,104.87 L182.0,105.28 L183.0,105.68 L184.0,106.09 L185.0,106.48 L186.0,106.88 L187.0,107.27 L188.0,107.66 L189.0,108.05 L190.0,108.44 L191.0,108.83 L192.0,109.22 L193.0,109.60 L194.0,110.01 L195.0,110.41 L196.0,110.81 L197.0,111.21 L198.0,111.61 L199.0,112.02 L200.0,112.42 L201.0,112.82 L202.0,113.22 L203.0,113.61 L204.0,114.01 L205.0,114.41 L206.0,114.81 L207.0,115.20 L208.0,115.60 L209.0,115.99 L210.0,116.38 L211.0,116.75 L212.0,117.13 L213.0,117.50 L214.0,117.87 L215.0,118.23 L216.0,118.60 L217.0,118.97 L218.0,119.33 L219.0,119.69 L220.0,120.05 L221.0,120.41 L222.0,120.77 L223.0,121.12 L224.0,121.48 L225.0,121.83 L226.0,122.18 L227.0,122.53 L228.0,122.87 L229.0,123.21 L230.0,123.56 L231.0,123.90 L232.0,124.23 L233.0,124.57 L234.0,124.90 L235.0,125.23 L236.0,125.55 L237.0,125.88 L238.0,126.20 L239.0,126.52 L240.0,126.84 L241.0,127.15 L242.0,127.46 L243.0,127.77 L244.0,128.08 L245.0,128.38 L246.0,128.68 L247.0,128.97 L248.0,129.27 L249.0,129.56 L250.0,129.84 L251.0,130.13 L252.0,130.41 L253.0,130.68 L254.0,130.96 L255.0,131.23 L256.0,131.49 L257.0,131.76 L258.0,132.02 L259.0,132.29 L260.0,132.55 L261.0,132.81 L262.0,133.07 L263.0,133.33 L264.0,133.59 L265.0,133.84 L266.0,134.10 L267.0,134.35 L268.0,134.61 L269.0,134.86 L270.0,135.11 L271.0,135.36 L272.0,135.62 L273.0,135.87 L274.0,136.12 L275.0,136.38 L276.0,136.63 L277.0,136.89 L278.0,137.14 L279.0,137.40 L280.0,137.66 L281.0,137.92 L282.0,138.18 L283.0,138.45 L284.0,138.72 L285.0,138.99 L286.0,139.26 L287.0,139.54 L288.0,139.81 L289.0,140.10 L290.0,140.38 L291.0,140.67 L292.0,140.96 L293.0,141.25 L294.0,141.54 L295.0,141.84 L296.0,142.14 L297.0,142.44 L298.0,142.74 L299.0,143.05 L300.0,143.36 L301.0,143.68 L302.0,143.99 L303.0,144.31 L304.0,144.63 L305.0,144.95 L306.0,145.28 L307.0,145.60 L308.0,145.93 L309.0,146.25 L310.0,146.58 L311.0,146.91 L312.0,147.24 L313.0,147.57 L314.0,147.90 L315.0,148.23 L316.0,148.57 L317.0,148.90 L318.0,149.23 L319.0,149.56 L320.0,149.69 L321.0,149.82 L322.0,149.95 L323.0,150.04 L324.0,150.13 L325.0,150.22 L326.0,150.55 L327.0,150.87 L328.0,151.19 L329.0,151.51 L330.0,152.02 L331.0,152.54 L332.0,153.05 L333.0,153.56 L334.0,153.89 L335.0,154.23 L336.0,154.56 L337.0,154.73 L338.0,154.89 L339.0,155.05 L340.0,155.32 L341.0,155.58 L342.0,155.86 L343.0,156.14 L344.0,156.43 L345.0,156.73 L346.0,157.04 L347.0,157.34 L348.0,157.66 L349.0,157.98 L350.0,158.32 L351.0,158.68 L352.0,158.96 L353.0,159.23 L354.0,159.52 L355.0,159.82 L356.0,160.13 L357.0,160.35 L358.0,160.56 L359.0,160.78 L360.0,161.01 L361.0,161.25 L362.0,161.51 L363.0,161.79 L364.0,162.08 L364.6,162.26 L370.2,180.00 L373.4,172.29 L374.4,172.99 L375.4,173.70 L376.4,174.42 L377.4,175.15 L378.4,175.88 L379.4,176.63 L380.4,177.40 L381.4,178.25 L382.4,179.28 L383.4,180.54 L384.4,182.12 L385.4,184.09 L386.4,186.52 L387.4,189.31 L388.4,191.59 L389.1,192.32" stroke="#5E81B5"/>
<path d="M98.0,26.93 L99.0,29.58 L100.0,32.10 L101.0,34.50 L102.0,36.78 L103.0,38.94 L104.0,41.00 L105.0,42.96 L106.0,44.81 L107.0,46.57 L108.0,48.24 L109.0,49.83 L110.0,51.34 L111.0,52.78 L112.0,54.16 L113.0,55.49 L114.0,56.77 L115.0,58.01 L116.0,59.22 L117.0,60.41 L118.0,61.56 L119.0,62.69 L120.0,63.80 L121.0,64.88 L122.0,65.95 L123.0,66.99 L124.0,68.02 L125.0,69.03 L126.0,70.02 L127.0,71.00 L128.0,71.96 L129.0,72.90 L130.0,73.82 L131.0,74.73 L132.0,75.62 L133.0,76.50 L134.0,77.36 L135.0,78.20 L136.0,79.03 L137.0,79.85 L138.0,80.65 L139.0,81.43 L140.0,82.20 L141.0,82.96 L142.0,83.71 L143.0,84.44 L144.0,85.15 L145.0,85.86 L146.0,86.55 L147.0,87.23 L148.0,87.89 L149.0,88.55 L150.0,89.19 L151.0,89.82 L152.0,90.45 L153.0,91.06 L154.0,91.66 L155.0,92.24 L156.0,92.82 L157.0,93.39 L158.0,93.95 L159.0,94.50 L160.0,95.04 L161.0,95.58 L162.0,96.10 L163.0,96.62 L164.0,97.12 L165.0,97.62 L166.0,98.12 L167.0,98.60 L168.0,99.08 L169.0,99.55 L170.0,100.02 L171.0,100.48 L172.0,100.93 L173.0,101.37 L174.0,101.82 L175.0,102.25 L176.0,102.68 L177.0,103.11 L178.0,103.53 L179.0,103.95 L180.0,104.36 L181.0,104.77 L182.0,105.18 L183.0,105.58 L184.0,105.99 L185.0,106.38 L186.0,106.78 L187.0,107.17 L188.0,107.56 L189.0,107.95 L190.0,108.34 L191.0,108.73 L192.0,109.12 L193.0,109.50 L194.0,109.89 L195.0,110.27 L196.0,110.66 L197.0,111.04 L198.0,111.43 L199.0,111.81 L200.0,112.19 L201.0,112.58 L202.0,112.96 L203.0,113.34 L204.0,113.72 L205.0,114.10 L206.0,114.48 L207.0,114.85 L208.0,115.23 L209.0,115.61 L210.0,115.98 L211.0,116.35 L212.0,116.73 L213.0,117.10 L214.0,117.47 L215.0,117.83 L216.0,118.20 L217.0,118.57 L218.0,118.93 L219.0,119.29 L220.0,119.65 L221.0,120.01 L222.0,120.37 L223.0,120.72 L224.0,121.08 L225.0,121.43 L226.0,121.78 L227.0,122.13 L228.0,122.47 L229.0,122.81 L230.0,123.16 L231.0,123.50 L232.0,123.83 L233.0,124.17 L234.0,124.50 L235.0,124.83 L236.0,125.15 L237.0,125.48 L238.0,125.80 L239.0,126.12 L240.0,126.44 L241.0,126.75 L242.0,127.06 L243.0,127.37 L244.0,127.68 L245.0,127.98 L246.0,128.28 L247.0,128.57 L248.0,128.87 L249.0,129.16 L250.0,129.44 L251.0,129.73 L252.0,130.01 L253.0,130.28 L254.0,130.56 L255.0,130.83 L256.0,131.09 L257.0,131.36 L258.0,131.62 L259.0,131.88 L260.0,132.14 L261.0,132.39 L262.0,132.65 L263.0,132.90 L264.0,133.15 L265.0,133.40 L266.0,133.65 L267.0,133.90 L268.0,134.15 L269.0,134.39 L270.0,134.64 L271.0,134.89 L272.0,135.13 L273.0,135.38 L274.0,135.63 L275.0,135.87 L276.0,136.12 L277.0,136.37 L278.0,136.62 L279.0,136.88 L280.0,137.13 L281.0,137.38 L282.0,137.64 L283.0,137.90 L284.0,138.16 L285.0,138.43 L286.0,138.69 L287.0,138.96 L288.0,139.23 L289.0,139.51 L290.0,139.79 L291.0,140.07 L292.0,140.36 L293.0,140.65 L294.0,140.94 L295.0,141.24 L296.0,141.54 L297.0,141.84 L298.0,142.14 L299.0,142.45 L300.0,142.76 L301.0,143.08 L302.0,143.39 L303.0,143.71 L304.0,144.03 L305.0,144.35 L306.0,144.68 L307.0,145.00 L308.0,145.33 L309.0,145.65 L310.0,145.98 L311.0,146.31 L312.0,146.64 L313.0,146.97 L314.0,147.30 L315.0,147.63 L316.0,147.97 L317.0,148.30 L318.0,148.63 L319.0,148.96 L320.0,149.29 L321.0,149.62 L322.0,149.95 L323.0,150.27 L324.0,150.60 L325.0,150.92 L326.0,151.25 L327.0,151.57 L328.0,151.89 L329.0,152.21 L330.0,152.52 L331.0,152.84 L332.0,153.15 L333.0,153.46 L334.0,153.76 L335.0,154.06 L336.0,154.36 L337.0,154.66 L338.0,154.96 L339.0,155.25 L340.0,155.55 L341.0,155.85 L342.0,156.16 L343.0,156.48 L344.0,156.80 L345.0,157.14 L346.0,157.49 L347.0,157.86 L348.0,158.24 L349.0,158.63 L350.0,159.04 L351.0,159.47 L352.0,159.90 L353.0,160.36 L354.0,160.82 L355.0,161.30 L356.0,161.80 L357.0,162.30 L358.0,162.82 L359.0,163.35 L360.0,163.90 L361.0,164.46 L362.0,165.03 L363.0,165.61 L364.0,166.20 L365.0,166.80 L366.0,167.42 L367.0,168.04 L368.0,168.68 L369.0,169.33 L370.0,169.98 L371.0,170.65 L372.0,171.33 L373.0,172.02 L374.0,172.71 L375.0,173.42 L376.0,174.13 L377.0,174.86 L378.0,175.59 L379.0,176.33 L380.0,177.08 L381.0,177.90 L382.0,178.84 L383.0,180.00 L384.0,181.45 L385.0,183.25 L386.0,185.49 L387.0,188.20 L388.0,190.81 L389.0,192.27 L389.1,192.32" stroke="#E19C24"/>
<path d="M98.0,19.33 L99.0,20.49 L100.0,21.89 L101.0,23.50 L102.0,25.27 L103.0,27.15 L104.0,29.10 L105.0,31.09 L106.0,33.07 L107.0,35.00 L108.0,36.85 L109.0,38.64 L110.0,40.36 L111.0,42.01 L112.0,43.60 L113.0,45.13 L114.0,46.60 L115.0,48.01 L116.0,49.37 L117.0,50.68 L118.0,51.93 L119.0,53.15 L120.0,54.31 L121.0,55.44 L122.0,56.52 L123.0,57.56 L124.0,58.57 L125.0,59.55 L126.0,60.49 L127.0,61.40 L128.0,62.29 L129.0,63.15 L130.0,63.98 L131.0,64.80 L132.0,65.59 L133.0,66.37 L134.0,67.14 L135.0,67.89 L136.0,68.63 L137.0,69.36 L138.0,70.08 L139.0,70.80 L140.0,71.50 L141.0,72.20 L142.0,72.88 L143.0,73.56 L144.0,74.23 L145.0,74.89 L146.0,75.54 L147.0,76.18 L148.0,76.82 L149.0,77.45 L150.0,78.07 L151.0,78.68 L152.0,79.28 L153.0,79.88 L154.0,80.47 L155.0,81.05 L156.0,81.62 L157.0,82.19 L158.0,82.74 L159.0,83.30 L160.0,83.84 L161.0,84.38 L162.0,84.91 L163.0,85.43 L164.0,85.95 L165.0,86.46 L166.0,86.97 L167.0,87.47 L168.0,87.96 L169.0,88.45 L170.0,88.93 L171.0,89.41 L172.0,89.88 L173.0,90.34 L174.0,90.80 L175.0,91.25 L176.0,91.70 L177.0,92.15 L178.0,92.58 L179.0,93.02 L180.0,93.45 L181.0,93.87 L182.0,94.29 L183.0,94.71 L184.0,95.12 L185.0,95.52 L186.0,95.92 L187.0,96.32 L188.0,96.72 L189.0,97.11 L190.0,97.49 L191.0,97.88 L192.0,98.26 L193.0,98.63 L194.0,99.01 L195.0,99.38 L196.0,99.74 L197.0,100.11 L198.0,100.47 L199.0,100.83 L200.0,101.18 L201.0,101.54 L202.0,101.89 L203.0,102.23 L204.0,102.58 L205.0,102.92 L206.0,103.27 L207.0,103.61 L208.0,103.94 L209.0,104.28 L210.0,104.61 L211.0,104.94 L212.0,105.27 L213.0,105.60 L214.0,105.92 L215.0,106.25 L216.0,106.57 L217.0,106.89 L218.0,107.21 L219.0,107.52 L220.0,107.84 L221.0,108.15 L222.0,108.46 L223.0,108.77 L224.0,109.08 L225.0,109.38 L226.0,109.69 L227.0,109.99 L228.0,110.29 L229.0,110.59 L230.0,110.89 L231.0,111.19 L232.0,111.49 L233.0,111.78 L234.0,112.07 L235.0,112.37 L236.0,112.66 L237.0,112.95 L238.0,113.24 L239.0,113.52 L240.0,113.81 L241.0,114.10 L242.0,114.38 L243.0,114.66 L244.0,114.95 L245.0,115.23 L246.0,115.51 L247.0,115.79 L248.0,116.07 L249.0,116.34 L250.0,116.62 L251.0,116.90 L252.0,117.17 L253.0,117.45 L254.0,117.72 L255.0,118.00 L256.0,118.27 L257.0,118.55 L258.0,118.82 L259.0,119.09 L260.0,119.36 L261.0,119.63 L262.0,119.90 L263.0,120.17 L264.0,120.44 L265.0,120.71 L266.0,120.98 L267.0,121.25 L268.0,121.52 L269.0,121.79 L270.0,122.06 L271.0,122.33 L272.0,122.60 L273.0,122.87 L274.0,123.14 L275.0,123.41 L276.0,123.68 L277.0,123.95 L278.0,124.22 L279.0,124.49 L280.0,124.76 L281.0,125.03 L282.0,125.30 L283.0,125.57 L284.0,125.84 L285.0,126.11 L286.0,126.38 L287.0,126.66 L288.0,126.93 L289.0,127.20 L290.0,127.48 L291.0,127.75 L292.0,128.03 L293.0,128.30 L294.0,128.58 L295.0,128.86 L296.0,129.14 L297.0,129.42 L298.0,129.70 L299.0,129.98 L300.0,130.26 L301.0,130.54 L302.0,130.82 L303.0,131.11 L304.0,131.39 L305.0,131.68 L306.0,131.97 L307.0,132.26 L308.0,132.55 L309.0,132.84 L310.0,133.13 L311.0,133.42 L312.0,133.72 L313.0,134.02 L314.0,134.31 L315.0,134.61 L316.0,134.91 L317.0,135.21 L318.0,135.52 L319.0,135.82 L320.0,136.13 L321.0,136.44 L322.0,136.75 L323.0,137.06 L324.0,137.37 L325.0,137.69 L326.0,138.00 L327.0,138.32 L328.0,138.64 L329.0,138.96 L330.0,139.29 L331.0,139.61 L332.0,139.94 L333.0,140.27 L334.0,140.60 L335.0,140.93 L336.0,141.27 L337.0,141.61 L338.0,141.95 L339.0,142.29 L340.0,142.64 L341.0,142.99 L342.0,143.34 L343.0,143.70 L344.0,144.07 L345.0,144.44 L346.0,144.81 L347.0,145.20 L348.0,145.59 L349.0,145.98 L350.0,146.39 L351.0,146.80 L352.0,147.22 L353.0,147.65 L354.0,148.09 L355.0,148.54 L356.0,149.00 L357.0,149.47 L358.0,149.95 L359.0,150.44 L360.0,150.95 L361.0,151.46 L362.0,151.99 L363.0,152.54 L364.0,153.09 L365.0,153.66 L366.0,154.25 L367.0,154.85 L368.0,155.47 L369.0,156.10 L370.0,156.75 L371.0,157.41 L372.0,158.10 L373.0,158.80 L374.0,159.54 L375.0,160.31 L376.0,161.11 L377.0,161.96 L378.0,162.86 L379.0,163.80 L380.0,164.80 L381.0,165.86 L382.0,166.98 L383.0,168.18 L384.0,169.44 L385.0,170.79 L386.0,172.21 L387.0,173.72 L388.0,175.33 L389.0,177.03 L389.4,177.74" stroke="#8FB032"/>
<path d="M98.0,14.39 L99.0,15.78 L100.0,17.15 L101.0,18.51 L102.0,19.86 L103.0,21.19 L104.0,22.51 L105.0,23.80 L106.0,25.08 L107.0,26.34 L108.0,27.58 L109.0,28.79 L110.0,29.98 L111.0,31.14 L112.0,32.28 L113.0,33.39 L114.0,34.48 L115.0,35.54 L116.0,36.57 L117.0,37.57 L118.0,38.55 L119.0,39.50 L120.0,40.42 L121.0,41.32 L122.0,42.19 L123.0,43.03 L124.0,43.84 L125.0,44.63 L126.0,45.40 L127.0,46.14 L128.0,46.86 L129.0,47.56 L130.0,48.24 L131.0,48.91 L132.0,49.55 L133.0,50.17 L134.0,50.78 L135.0,51.38 L136.0,51.95 L137.0,52.52 L138.0,53.07 L139.0,53.61 L140.0,54.13 L141.0,54.65 L142.0,55.15 L143.0,55.64 L144.0,56.13 L145.0,56.60 L146.0,57.06 L147.0,57.51 L148.0,57.96 L149.0,58.39 L150.0,58.82 L151.0,59.24 L152.0,59.66 L153.0,60.06 L154.0,60.47 L155.0,60.86 L156.0,61.25 L157.0,61.64 L158.0,62.02 L159.0,62.39 L160.0,62.77 L161.0,63.14 L162.0,63.51 L163.0,63.87 L164.0,64.23 L165.0,64.59 L166.0,64.95 L167.0,65.30 L168.0,65.65 L169.0,66.00 L170.0,66.34 L171.0,66.68 L172.0,67.02 L173.0,67.36 L174.0,67.69 L175.0,68.02 L176.0,68.35 L177.0,68.68 L178.0,69.00 L179.0,69.32 L180.0,69.64 L181.0,69.96 L182.0,70.27 L183.0,70.59 L184.0,70.89 L185.0,71.20 L186.0,71.51 L187.0,71.81 L188.0,72.11 L189.0,72.41 L190.0,72.71 L191.0,73.00 L192.0,73.29 L193.0,73.58 L194.0,73.87 L195.0,74.16 L196.0,74.44 L197.0,74.72 L198.0,75.00 L199.0,75.28 L200.0,75.56 L201.0,75.83 L202.0,76.11 L203.0,76.38 L204.0,76.65 L205.0,76.92 L206.0,77.18 L207.0,77.45 L208.0,77.71 L209.0,77.97 L210.0,78.23 L211.0,78.49 L212.0,78.75 L213.0,79.01 L214.0,79.26 L215.0,79.51 L216.0,79.77 L217.0,80.02 L218.0,80.27 L219.0,80.52 L220.0,80.76 L221.0,81.01 L222.0,81.25 L223.0,81.50 L224.0,81.74 L225.0,81.98 L226.0,82.22 L227.0,82.46 L228.0,82.70 L229.0,82.94 L230.0,83.17 L231.0,83.41 L232.0,83.64 L233.0,83.88 L234.0,84.11 L235.0,84.34 L236.0,84.58 L237.0,84.81 L238.0,85.04 L239.0,85.27 L240.0,85.50 L241.0,85.73 L242.0,85.96 L243.0,86.18 L244.0,86.41 L245.0,86.64 L246.0,86.86 L247.0,87.09 L248.0,87.32 L249.0,87.54 L250.0,87.77 L251.0,87.99 L252.0,88.21 L253.0,88.44 L254.0,88.66 L255.0,88.89 L256.0,89.11 L257.0,89.33 L258.0,89.55 L259.0,89.78 L260.0,90.00 L261.0,90.22 L262.0,90.45 L263.0,90.67 L264.0,90.89 L265.0,91.11 L266.0,91.34 L267.0,91.56 L268.0,91.78 L269.0,92.01 L270.0,92.23 L271.0,92.46 L272.0,92.68 L273.0,92.90 L274.0,93.13 L275.0,93.35 L276.0,93.58 L277.0,93.80 L278.0,94.03 L279.0,94.26 L280.0,94.48 L281.0,94.71 L282.0,94.94 L283.0,95.17 L284.0,95.40 L285.0,95.63 L286.0,95.86 L287.0,96.09 L288.0,96.32 L289.0,96.55 L290.0,96.79 L291.0,97.02 L292.0,97.26 L293.0,97.49 L294.0,97.73 L295.0,97.96 L296.0,98.20 L297.0,98.44 L298.0,98.68 L299.0,98.92 L300.0,99.16 L301.0,99.41 L302.0,99.65 L303.0,99.90 L304.0,100.14 L305.0,100.39 L306.0,100.64 L307.0,100.89 L308.0,101.14 L309.0,101.39 L310.0,101.64 L311.0,101.90 L312.0,102.16 L313.0,102.41 L314.0,102.67 L315.0,102.93 L316.0,103.19 L317.0,103.46 L318.0,103.72 L319.0,103.99 L320.0,104.25 L321.0,104.52 L322.0,104.79 L323.0,105.07 L324.0,105.34 L325.0,105.62 L326.0,105.89 L327.0,106.17 L328.0,106.45 L329.0,106.74 L330.0,107.02 L331.0,107.31 L332.0,107.60 L333.0,107.89 L334.0,108.18 L335.0,108.47 L336.0,108.77 L337.0,109.06 L338.0,109.36 L339.0,109.67 L340.0,109.97 L341.0,110.28 L342.0,110.58 L343.0,110.90 L344.0,111.21 L345.0,111.52 L346.0,111.84 L347.0,112.16 L348.0,112.48 L349.0,112.80 L350.0,113.13 L351.0,113.46 L352.0,113.79 L353.0,114.12 L354.0,114.46 L355.0,114.81 L356.0,115.17 L357.0,115.53 L358.0,115.91 L359.0,116.30 L360.0,116.71 L361.0,117.13 L362.0,117.58 L363.0,118.04 L364.0,118.52 L365.0,119.03 L366.0,119.57 L367.0,120.13 L368.0,120.72 L369.0,121.35 L370.0,122.00 L371.0,122.69 L372.0,123.41 L373.0,124.17 L374.0,124.97 L375.0,125.82 L376.0,126.70 L377.0,127.63 L378.0,128.60 L379.0,129.62 L380.0,130.69 L381.0,131.81 L382.0,132.99 L383.0,134.22 L384.0,135.50 L385.0,136.84 L386.0,138.25 L387.0,139.71 L388.0,141.23 L389.0,142.82 L389.6,143.81" stroke="#EB6235"/>
<path d="M98.1,12.46 L99.1,14.06 L100.1,15.68 L101.1,17.32 L102.1,18.98 L103.1,20.63 L104.1,22.29 L105.1,23.94 L106.1,25.57 L107.1,27.18 L108.1,28.77 L109.1,30.32 L110.1,31.84 L111.1,33.32 L112.1,34.76 L113.1,36.16 L114.1,37.52 L115.1,38.84 L116.1,40.12 L117.1,41.36 L118.1,42.57 L119.1,43.75 L120.1,44.91 L121.1,46.04 L122.1,47.15 L123.1,48.25 L124.1,49.34 L125.1,50.41 L126.1,51.49 L127.1,52.56 L128.1,53.64 L129.1,54.72 L130.1,55.81 L131.1,56.92 L132.1,58.04 L133.1,59.17 L134.1,60.30 L135.1,61.43 L136.1,62.56 L137.1,63.68 L138.1,64.81 L139.1,65.92 L140.1,67.04 L141.1,68.15 L142.1,69.26 L143.1,70.37 L144.1,71.47 L145.1,72.57 L146.1,73.67 L147.1,74.77 L148.1,75.86 L149.1,76.95 L150.1,78.04 L151.1,79.12 L152.1,80.21 L153.1,81.29 L154.1,82.36 L155.1,83.44 L156.1,84.51 L157.1,85.58 L158.1,86.65 L159.1,87.72 L160.1,88.78 L161.1,89.84 L162.1,90.90 L163.1,91.96 L164.1,93.01 L165.1,94.06 L166.1,95.12 L167.1,96.16 L168.1,97.21 L169.1,98.26 L170.1,99.30 L171.1,100.34 L172.1,101.38 L173.1,102.42 L174.1,103.46 L175.1,104.49 L176.1,105.52 L177.1,106.55 L178.1,107.58 L179.1,108.61 L180.1,109.64 L181.1,110.66 L182.1,111.69 L183.1,112.71 L184.1,113.73 L185.1,114.75 L186.1,115.77 L187.1,116.79 L188.1,117.80 L189.1,118.82 L190.1,119.83 L191.1,120.84 L192.1,121.85 L193.1,122.86 L194.1,123.87 L195.1,124.88 L196.1,125.89 L197.1,126.90 L198.1,127.90 L199.1,128.91 L200.1,129.91 L201.1,130.91 L202.1,131.92 L203.1,132.92 L204.1,133.92 L205.1,134.92 L206.1,135.92 L207.1,136.92 L208.1,137.92 L209.1,138.92 L210.1,139.92 L211.1,140.92 L212.1,141.92 L213.1,142.91 L214.1,143.91 L215.1,144.91 L216.1,145.90 L217.1,146.90 L218.1,147.90 L219.1,148.89 L220.1,149.89 L221.1,150.89 L222.1,151.88 L223.1,152.88 L224.1,153.88 L225.1,154.87 L226.1,155.87 L227.1,156.87 L228.1,157.87 L229.1,158.86 L230.1,159.86 L231.1,160.86 L232.1,161.86 L233.1,162.86 L234.1,163.86 L235.1,164.86 L236.1,165.86 L237.1,166.86 L238.1,167.86 L239.1,168.87 L240.1,169.87 L241.1,170.87 L242.1,171.88 L243.1,172.88 L244.1,173.89 L245.1,174.90 L246.1,175.91 L247.1,176.92 L248.1,177.93 L249.1,178.94 L250.1,179.95 L251.1,180.96 L252.1,181.98 L253.1,183.00 L254.1,184.01 L255.1,185.03 L256.1,186.05 L257.1,187.07 L258.1,188.09 L259.1,189.12 L260.1,190.14 L261.1,191.17 L262.1,192.20 L262.1,192.20" stroke="#8778B3"/>
<path d="M98.0,16.54 L99.0,19.78 L100.0,23.07 L101.0,26.38 L102.0,29.68 L103.0,32.95 L104.0,36.15 L105.0,39.27 L106.0,42.30 L107.0,45.26 L108.0,48.17 L109.0,51.06 L110.0,53.99 L111.0,56.98 L112.0,60.05 L113.0,63.18 L114.0,66.36 L115.0,69.57 L116.0,72.78 L117.0,75.98 L118.0,79.15 L119.0,82.28 L120.0,85.38 L121.0,88.45 L122.0,91.50 L123.0,94.51 L124.0,97.50 L125.0,100.46 L126.0,103.40 L127.0,106.32 L128.0,109.22 L129.0,112.10 L130.0,114.96 L131.0,117.80 L132.0,120.63 L133.0,123.45 L134.0,126.25 L135.0,129.04 L136.0,131.83 L137.0,134.61 L138.0,137.38 L139.0,140.14 L140.0,142.91 L141.0,145.67 L142.0,148.43 L143.0,151.19 L144.0,153.95 L145.0,156.72 L146.0,159.49 L147.0,162.27 L148.0,165.06 L149.0,167.86 L150.0,170.67 L151.0,173.49 L152.0,176.32 L153.0,179.17 L154.0,182.04 L154.5,183.48" stroke="#C56E1A"/>
</g></g>
<rect x="335.9" y="7.8" width="65.95000000000005" height="179.0" fill="#fff" fill-opacity="0.55"/>
<g filter="url(#gs)">
<text class="l" transform="translate(376.2,27.8) scale(1.1,1)" x="0" y="0" font-style="italic" style="font-size:23.5px">T</text>
<path d="M341.2,49.40 H361.2" stroke="#5E81B5" stroke-width="1.8" fill="none"/>
<text class="l" x="367.0 378.9 384.9" y="54.0">0.6</text>
<path d="M341.2,74.37 H361.2" stroke="#E19C24" stroke-width="1.8" fill="none"/>
<text class="l" x="367.0 378.9 384.9" y="79.0">2.6</text>
<path d="M341.2,99.34 H361.2" stroke="#8FB032" stroke-width="1.8" fill="none"/>
<text class="l" x="367.0 378.9 384.9" y="103.9">4.6</text>
<path d="M341.2,124.31 H361.2" stroke="#EB6235" stroke-width="1.8" fill="none"/>
<text class="l" x="367.0 378.9 384.9" y="128.9">5.6</text>
<path d="M341.2,149.28 H361.2" stroke="#8778B3" stroke-width="1.8" fill="none"/>
<text class="l" x="367.0 378.9" y="153.9">6.</text>
<path d="M341.2,174.25 H361.2" stroke="#C56E1A" stroke-width="1.8" fill="none"/>
<text class="l" x="368.0 379.9" y="178.8">7.</text>
<text class="t" x="148.1" y="217.7" text-anchor="middle">20</text>
<text class="t" x="210.0" y="217.7" text-anchor="middle">40</text>
<text class="t" x="271.9" y="217.7" text-anchor="middle">60</text>
<text class="t" x="333.7" y="217.7" text-anchor="middle">80</text>
<text class="t" x="395.6" y="217.7" text-anchor="middle">100</text>
<text class="t" x="44.7 57.7" y="23.6">10</text>
<rect x="71.1" y="9.70" width="10.1" height="1.3" fill="#666666"/>
<text class="s" x="81.7" y="15.0">2</text>
<text class="t" x="44.7 57.7" y="54.7">10</text>
<rect x="71.1" y="40.78" width="10.1" height="1.3" fill="#666666"/>
<text class="s" x="81.7" y="46.1">4</text>
<text class="t" x="44.7 57.7" y="85.8">10</text>
<rect x="71.1" y="71.86" width="10.1" height="1.3" fill="#666666"/>
<text class="s" x="81.7" y="77.2">6</text>
<text class="t" x="44.7 57.7" y="116.8">10</text>
<rect x="71.1" y="102.94" width="10.1" height="1.3" fill="#666666"/>
<text class="s" x="81.7" y="108.2">8</text>
<text class="t" x="36.7 49.7" y="147.9">10</text>
<rect x="63.0" y="134.02" width="10.0" height="1.3" fill="#666666"/>
<text class="s" x="73.3 82.6" y="139.3">10</text>
<text class="t" x="36.7 49.7" y="179.0">10</text>
<rect x="63.0" y="165.10" width="10.0" height="1.3" fill="#666666"/>
<text class="s" x="73.3 82.6" y="170.4">12</text>
<text class="t" transform="translate(226.8,253.7) scale(1.08,1)" x="0" y="0" font-style="italic">L</text>
<text x="242.9 257.1" y="258.3" font-weight="bold" fill="#6c6c6c" style="font-size:20px">BC</text>
<g transform="translate(24,119.4) rotate(-90)" fill="#666666">
<text transform="translate(-2.6,0) scale(1.3,1)" x="0" y="0" font-weight="bold" style="font-size:25px" fill="#666666">1</text>
<rect x="14.6" y="-8.1" width="13.8" height="2.4"/>
<text transform="translate(30.6,0) scale(1.14,1)" x="0" y="0" font-weight="bold" style="font-size:25px" fill="#666666">F</text>
</g>
</g>
</svg></body></html>
